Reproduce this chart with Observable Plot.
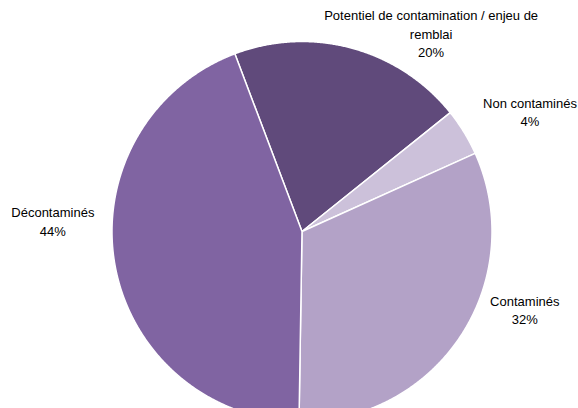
<!DOCTYPE html>
<html>
<head>
<meta charset="utf-8">
<script src="https://cdn.jsdelivr.net/npm/d3@7"></script>
<script src="https://cdn.jsdelivr.net/npm/@observablehq/plot@0.6"></script>
<style>
  html, body { margin: 0; padding: 0; background: #fff; overflow: hidden; }
  #chart { width: 578px; height: 408px; }
</style>
</head>
<body>
<div id="chart"></div>
<script>
// ---- data ----
const categories = ["Potentiel de contamination / enjeu de\nremblai", "Non contaminés", "Contaminés", "Décontaminés"];
const values = [20, 4, 32, 44];
const percentLabels = ["20%", "4%", "32%", "44%"];
const colors = ["#604A7B", "#CCC1DA", "#B3A2C7", "#8064A2"];

// ---- layout ----
const W = 578, H = 408;
const cx = 301.5, cy = 231, R = 190;
const startDeg = -20.7;
// label offsets (px) from the outer midpoint of each slice
const labelOffsets = [[79, -15.5], [66, -21], [64, -26.5], [-62, -43.5]];

// font detection
function hasFont(name) {
  const c = document.createElement("canvas").getContext("2d");
  const t = "Décontaminés mmmWWiil";
  c.font = "40px monospace"; const a = c.measureText(t).width;
  c.font = `40px '${name}', monospace`; const b = c.measureText(t).width;
  return Math.abs(a - b) > 0.5;
}
const narrow = hasFont("Liberation Sans Narrow");
const fontFamily = narrow ? "'Liberation Sans Narrow', 'Arial Narrow', sans-serif" : "'Liberation Sans', Arial, sans-serif";
const fontSize = narrow ? 15.5 : 13;

const rows = categories.map((c, i) => ({category: c, value: values[i], pct: percentLabels[i], color: colors[i], i}));
const start = startDeg * Math.PI / 180;
const arcs = d3.pie().sort(null).value(d => d.value).startAngle(start).endAngle(start + 2 * Math.PI)(rows);

// polygon points for each slice in unit coordinates
const pts = [];
for (const a of arcs) {
  const n = Math.max(2, Math.ceil((a.endAngle - a.startAngle) / 0.005));
  pts.push({k: a.data.i, x: 0, y: 0, color: a.data.color});
  for (let j = 0; j <= n; j++) {
    const t = a.startAngle + (a.endAngle - a.startAngle) * j / n;
    pts.push({k: a.data.i, x: Math.sin(t), y: Math.cos(t), color: a.data.color});
  }
  pts.push({k: a.data.i, x: 0, y: 0, color: a.data.color});
}

const labelData = arcs.map(a => {
  const m = (a.startAngle + a.endAngle) / 2;
  return {x: Math.sin(m), y: Math.cos(m), text: a.data.category + "\n" + a.data.pct, i: a.data.i};
});

const yMin = -(H - cy) / R;
const plot = Plot.plot({
  width: W,
  height: H,
  marginLeft: cx - R,
  marginRight: W - (cx + R),
  marginTop: cy - R,
  marginBottom: 0,
  x: {domain: [-1, 1], axis: null},
  y: {domain: [yMin, 1], axis: null},
  style: {fontFamily, fontSize: fontSize + "px", color: "#000", background: "#fff", overflow: "hidden"},
  marks: [
    Plot.line(pts, {x: "x", y: "y", z: "k", fill: "color", stroke: "#fff", strokeWidth: 1.5, strokeLinejoin: "round", curve: "linear"}),
    ...labelData.map(d => Plot.text([d], {
      x: "x", y: "y", text: "text",
      dx: labelOffsets[d.i][0], dy: labelOffsets[d.i][1],
      textAnchor: "middle", lineAnchor: "middle", lineHeight: 1.4,
      fill: "#000", fontSize
    }))
  ]
});
document.getElementById("chart").appendChild(plot);
</script>
</body>
</html>
